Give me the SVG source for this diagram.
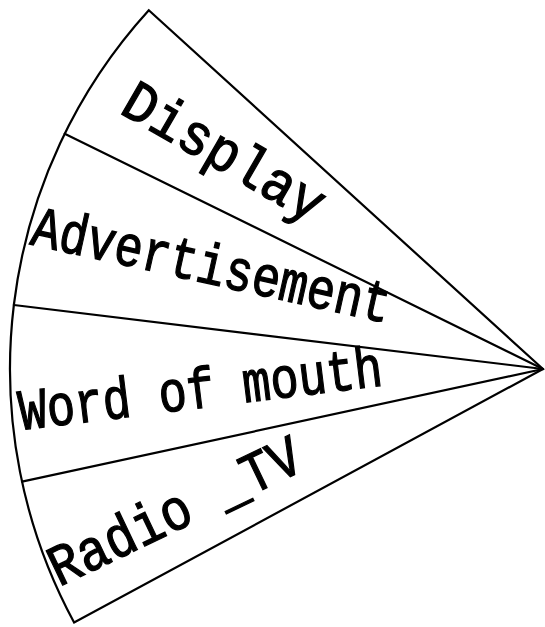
<svg xmlns="http://www.w3.org/2000/svg" width="545" height="627" viewBox="0 0 545 627">
<style>
.edge{fill:none;stroke:#000;stroke-width:2.2;stroke-linejoin:miter;stroke-linecap:round}
.lbl{font-family:"Liberation Mono","Courier New",monospace;font-size:58px;fill:#000;stroke:#000;stroke-width:1.3}
</style>
<rect width="545" height="627" fill="#fff"/>
<g id="connectors">
<path class="edge" d="M543,369 L148.8,10.3 A533,533 0 0 0 74.1,622.5 Z"/>
<line class="edge" x1="543" y1="369" x2="64.7" y2="133.7"/>
<line class="edge" x1="543" y1="369" x2="13.9" y2="305"/>
<line class="edge" x1="543" y1="369" x2="22" y2="481.6"/>
</g>
<g id="display"><text class="lbl" transform="translate(118,112) rotate(30)" textLength="224" lengthAdjust="spacingAndGlyphs">Display</text></g>
<g id="advertisement"><text class="lbl" transform="translate(29,244) rotate(12.5)" textLength="366" lengthAdjust="spacingAndGlyphs">Advertisement</text></g>
<g id="word-of-mouth"><text class="lbl" transform="translate(21,430) rotate(-7)" textLength="366" lengthAdjust="spacingAndGlyphs">Word of mouth</text></g>
<g id="radio-tv"><text class="lbl" transform="translate(59,587) rotate(-25.5)" textLength="274" lengthAdjust="spacingAndGlyphs">Radio _TV</text></g>
</svg>
